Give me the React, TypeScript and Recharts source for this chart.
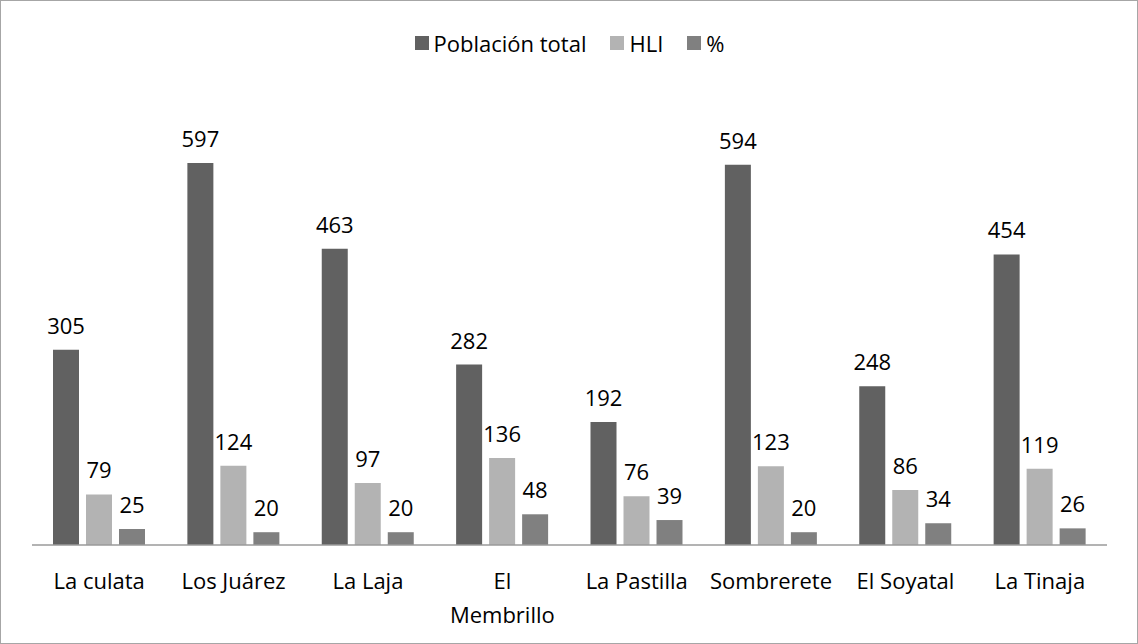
import { BarChart, Bar, XAxis, YAxis, Legend, LabelList } from "recharts"

const categories = ["La culata", "Los Juárez", "La Laja", "El\nMembrillo", "La Pastilla", "Sombrerete", "El Soyatal", "La Tinaja"]
const poblacion = [305, 597, 463, 282, 192, 594, 248, 454]
const hli = [79, 124, 97, 136, 76, 123, 86, 119]
const pct = [25, 20, 20, 48, 39, 20, 34, 26]

const series = [
  { key: "poblacion", name: "Población total", color: "#616161" },
  { key: "hli", name: "HLI", color: "#b3b3b3" },
  { key: "pct", name: "%", color: "#808080" },
]

const data = categories.map((name, i) => ({
  name,
  poblacion: poblacion[i],
  hli: hli[i],
  pct: pct[i],
}))

const FONT = "'Open Sans', 'Noto Sans', sans-serif"

function CategoryTick({ x, y, payload }: any) {
  const lines = String(payload.value).split("\n")
  return (
    <text x={x} y={y} textAnchor="middle" fill="#000" fontSize={22} fontFamily={FONT}>
      {lines.map((line, i) => (
        <tspan key={i} x={x} dy={i === 0 ? 36 : 34}>
          {line}
        </tspan>
      ))}
    </text>
  )
}

function LegendContent() {
  return (
    <div style={{ display: "flex", justifyContent: "center", gap: 24, fontFamily: FONT, fontSize: 22, color: "#000", lineHeight: "26px" }}>
      {series.map((s) => (
        <div key={s.key} style={{ display: "flex", alignItems: "center", gap: 5 }}>
          <span style={{ width: 14, height: 14, background: s.color, display: "inline-block" }} />
          <span>{s.name}</span>
        </div>
      ))}
    </div>
  )
}

export default function App() {
  return (
    <div
      style={{
        position: "absolute",
        left: 0,
        top: 0,
        width: 1136,
        height: 642,
        border: "1px solid #a6a6a6",
        background: "#fff",
      }}
    >
      <BarChart
        width={1136}
        height={642}
        data={data}
        margin={{ top: 70, right: 30, bottom: 68, left: 31 }}
        barGap={7}
        barCategoryGap={20}
      >
        <Legend verticalAlign="top" content={<LegendContent />} wrapperStyle={{ top: 29 }} />
        <YAxis hide domain={[0, 700]} />
        <XAxis
          dataKey="name"
          axisLine={{ stroke: "#9a9a9a", strokeWidth: 1.5 }}
          tickLine={false}
          interval={0}
          tick={<CategoryTick />}
        />
        {series.map((s) => (
          <Bar key={s.key} dataKey={s.key} name={s.name} fill={s.color} barSize={26} isAnimationActive={false}>
            <LabelList dataKey={s.key} position="top" offset={16} fill="#000" fontSize={22} fontFamily={FONT} />
          </Bar>
        ))}
      </BarChart>
    </div>
  )
}
